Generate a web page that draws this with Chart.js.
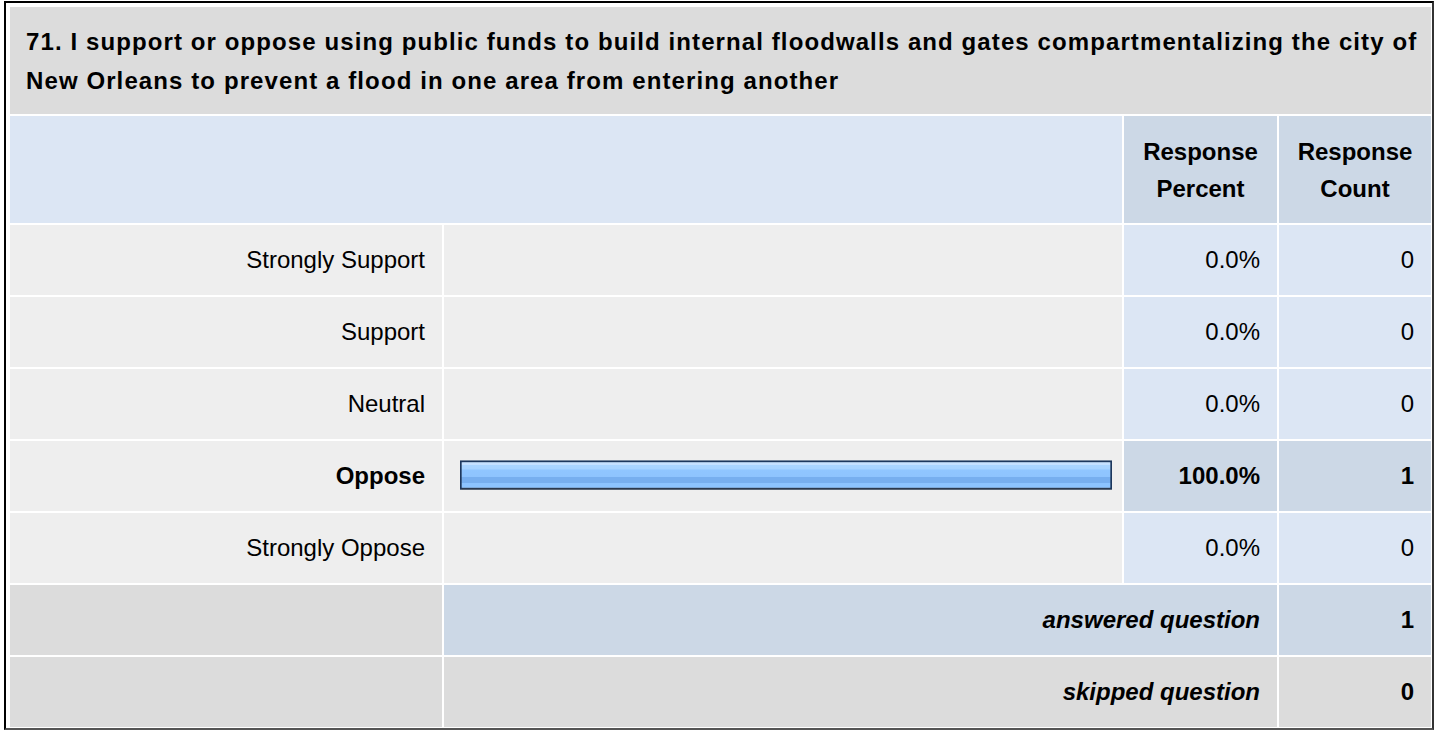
<!DOCTYPE html>
<html>
<head>
<meta charset="utf-8">
<script src="https://cdn.jsdelivr.net/npm/chart.js@4/dist/chart.umd.min.js"></script>
<style>
  html, body { margin: 0; padding: 0; background: #fff; width: 1437px; height: 730px; overflow: hidden; }
  body { position: relative; font-family: "Liberation Sans", Arial, Helvetica, sans-serif; color: #000; }
  #frame { position: absolute; left: 4px; top: 1px; width: 1430px; height: 729px; box-sizing: border-box;
           border-left: 2px solid #000; border-top: 2px solid #000; border-right: 2px solid #333; border-bottom: 2px solid #555; }
  .cell { position: absolute; box-sizing: border-box; display: flex; align-items: center; font-size: 24px; }
  .r { justify-content: flex-end; padding-right: 17px; text-align: right; }
  .c { justify-content: center; text-align: center; }
  .l { justify-content: flex-start; padding-left: 16px; }
  .b { font-weight: bold; }
  .bi { font-weight: bold; font-style: italic; }
  #title { font-weight: bold; line-height: 39px; letter-spacing: 1.1px; }
  .hdr { font-weight: bold; line-height: 37px; }
  #barCanvas { position: absolute; left: 444px; top: 223px; }
</style>
</head>
<body>
<div id="frame"></div>
<div id="cells"></div>
<canvas id="barCanvas" width="678" height="360"></canvas>
<script>
// ---- data ----
const questionTitle = ["71. I support or oppose using public funds to build internal floodwalls and gates compartmentalizing the city of",
                       "New Orleans to prevent a flood in one area from entering another"];
const categories = ["Strongly Support", "Support", "Neutral", "Oppose", "Strongly Oppose"];
const responsePercent = [0.0, 0.0, 0.0, 100.0, 0.0];
const responseCount = [0, 0, 0, 1, 0];
const columnHeaders = [["Response", "Percent"], ["Response", "Count"]];
const summaryLabels = ["answered question", "skipped question"];
const summaryValues = [1, 0];

// ---- table layout ----
const cols = [[10, 442], [444, 1122], [1124, 1277], [1279, 1431]];
const container = document.getElementById('cells');
function cell(x1, y1, x2, y2, bg, html, cls, id) {
  const d = document.createElement('div');
  d.className = 'cell ' + (cls || '');
  if (id) d.id = id;
  d.style.left = x1 + 'px'; d.style.top = y1 + 'px';
  d.style.width = (x2 - x1) + 'px'; d.style.height = (y2 - y1) + 'px';
  d.style.background = bg;
  d.innerHTML = html || '';
  container.appendChild(d);
  return d;
}
const GRAY = '#dcdcdc', LIGHT = '#eeeeee', BLUE1 = '#dce6f4', BLUE2 = '#ccd8e6';

cell(10, 7, 1431, 114, GRAY, '<div>' + questionTitle.join('<br>') + '</div>', 'l', 'title');
cell(10, 116, 1122, 223, BLUE1, '', '');
cell(cols[2][0], 116, cols[2][1], 223, BLUE2, '<div>' + columnHeaders[0].join('<br>') + '</div>', 'c hdr');
cell(cols[3][0], 116, cols[3][1], 223, BLUE2, '<div>' + columnHeaders[1].join('<br>') + '</div>', 'c hdr');

const maxPct = Math.max(...responsePercent);
const rowTop = i => 225 + i * 72;
categories.forEach((cat, i) => {
  const y1 = rowTop(i), y2 = y1 + 70;
  const top = responsePercent[i] === maxPct && maxPct > 0;
  cell(cols[0][0], y1, cols[0][1], y2, LIGHT, cat, 'r' + (top ? ' b' : ''));
  cell(cols[1][0], y1, cols[1][1], y2, LIGHT, '', '');
  cell(cols[2][0], y1, cols[2][1], y2, top ? BLUE2 : BLUE1, responsePercent[i].toFixed(1) + '%', 'r' + (top ? ' b' : ''));
  cell(cols[3][0], y1, cols[3][1], y2, top ? BLUE2 : BLUE1, String(responseCount[i]), 'r' + (top ? ' b' : ''));
});
summaryLabels.forEach((lab, j) => {
  const y1 = rowTop(categories.length + j), y2 = y1 + 70;
  const bg = j === 0 ? BLUE2 : GRAY;
  cell(cols[0][0], y1, cols[0][1], y2, GRAY, '', '');
  cell(cols[1][0], y1, cols[2][1], y2, bg, lab, 'r bi');
  cell(cols[3][0], y1, cols[3][1], y2, bg, String(summaryValues[j]), 'r b');
});

// ---- bar chart ----
const BAR_T = 29;
const barShadow = {
  id: 'barShadow',
  beforeDatasetsDraw(chart) { const c = chart.ctx; c.save(); c.shadowColor = 'rgba(60,60,60,0.45)'; c.shadowOffsetY = 2; c.shadowOffsetX = 0; c.shadowBlur = 0; },
  afterDatasetsDraw(chart) { chart.ctx.restore(); }
};
new Chart(document.getElementById('barCanvas'), {
  type: 'bar',
  data: {
    labels: categories,
    datasets: [{
      data: responsePercent,
      barThickness: BAR_T,
      borderColor: '#1c375d',
      borderWidth: 2,
      borderSkipped: false,
      backgroundColor: (ctx) => {
        const chart = ctx.chart;
        const ys = chart.scales && chart.scales.y;
        if (!ys || ctx.type !== 'data') return '#8ec5ff';
        const yc = ys.getPixelForValue(ctx.dataIndex);
        if (!Number.isFinite(yc)) return '#8ec5ff';
        const g = chart.ctx.createLinearGradient(0, yc - BAR_T / 2, 0, yc + BAR_T / 2);
        g.addColorStop(0.00, '#c9e4ff');
        g.addColorStop(0.14, '#c4e0ff');
        g.addColorStop(0.16, '#aad5ff');
        g.addColorStop(0.30, '#a6d2ff');
        g.addColorStop(0.32, '#90c6ff');
        g.addColorStop(0.56, '#8ec4fe');
        g.addColorStop(0.58, '#77afef');
        g.addColorStop(0.76, '#77afef');
        g.addColorStop(0.78, '#8cc4ff');
        g.addColorStop(0.92, '#8cc4ff');
        g.addColorStop(1.00, '#a3d2ff');
        return g;
      }
    }]
  },
  options: {
    indexAxis: 'y',
    responsive: false,
    animation: false,
    layout: { padding: { left: 16, right: 10, top: 0, bottom: 0 } },
    plugins: { legend: { display: false }, tooltip: { enabled: false } },
    scales: {
      x: { display: false, min: 0, max: 100 },
      y: { display: false }
    }
  },
  plugins: [barShadow]
});
</script>
</body>
</html>
